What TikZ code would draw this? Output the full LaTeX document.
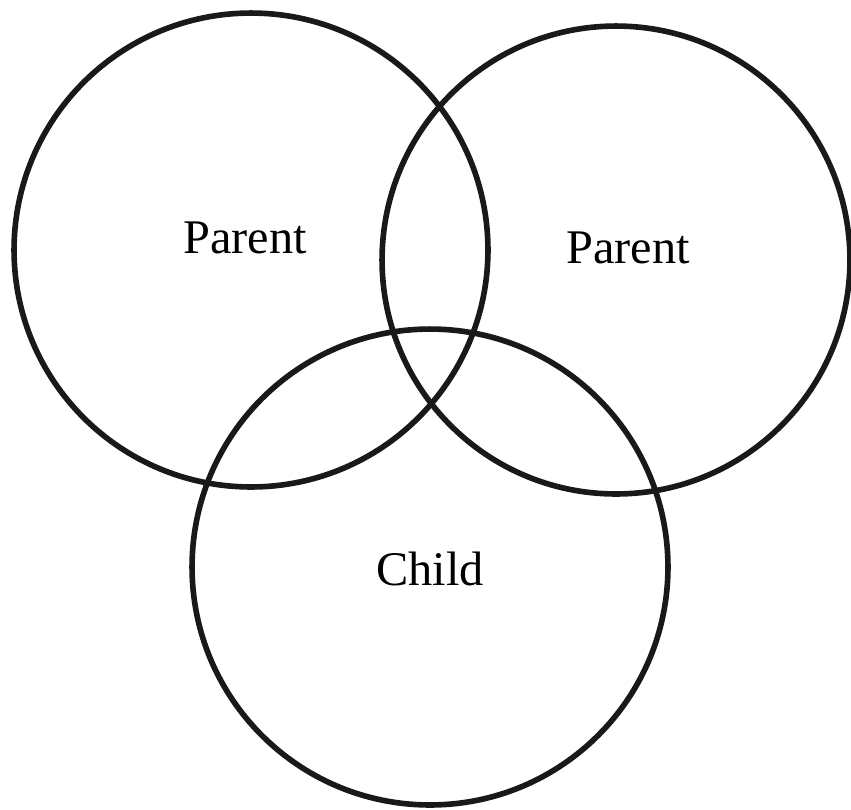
\documentclass[tikz,border=0pt]{standalone}
\usepackage{fontspec}
\setmainfont{Liberation Serif}
\usepackage{tikz}

\tikzset{
    ring/.style={line width=3.2pt, black!90},
    setname/.style={font=\fontsize{27.5}{32}\selectfont, anchor=base, inner sep=0pt}
}

\begin{document}
\begin{tikzpicture}[x=0.02cm, y=-0.02cm]
    \useasboundingbox (0,0) rectangle (851,809);
    % Parent sets
    \coordinate (leftc) at (251,250);
    \coordinate (rightc) at (616,260);
    % Child set
    \coordinate (childc) at (430,567);
    \draw[ring] (leftc) circle[radius=4.74cm];
    \draw[ring] (rightc) circle[radius=4.68cm];
    \draw[ring] (childc) circle[radius=4.76cm];
    % Labels
    \node[setname] (leftlbl) at (245,253) {Parent};
    \node[setname] (rightlbl) at (628,263) {Parent};
    \node[setname] (childlbl) at (430,585) {Child};
\end{tikzpicture}
\end{document}
